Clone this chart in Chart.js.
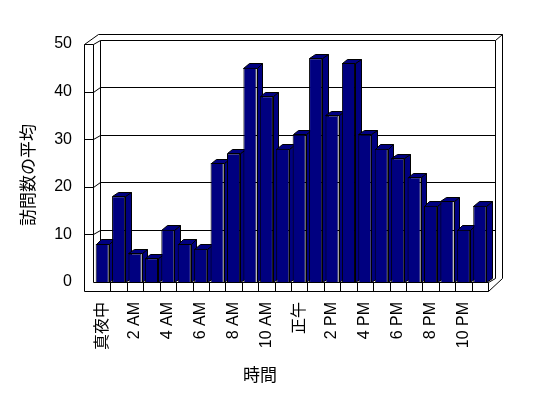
<!DOCTYPE html>
<html>
<head>
<meta charset="utf-8">
<script src="https://cdn.jsdelivr.net/npm/chart.js@4.4.0/dist/chart.umd.min.js"></script>
<style>
body { margin: 0; background: #fff; }
</style>
</head>
<body>
<canvas id="visits" width="548" height="398"></canvas>
<script>
var hourLabels = ['真夜中', '1 AM', '2 AM', '3 AM', '4 AM', '5 AM', '6 AM', '7 AM', '8 AM', '9 AM', '10 AM', '11 AM',
    '正午', '1 PM', '2 PM', '3 PM', '4 PM', '5 PM', '6 PM', '7 PM', '8 PM', '9 PM', '10 PM', '11 PM'];
var avgVisits = [8, 18, 6, 5, 11, 8, 7, 25, 27, 45, 39, 28, 31, 47, 35, 46, 31, 28, 26, 22, 16, 17, 11, 16];
var yTicks = [0, 10, 20, 30, 40, 50];
var xTitle = '時間';
var yTitle = '訪問数の平均';

var latin = "'Liberation Sans', 'Noto Sans CJK JP'";
var kanji = "'Noto Sans CJK JP'";
var navy = '#000080';

function px(v) { return Math.round(v) + 0.5; }

function poly(ctx, pts, close, fill) {
    ctx.beginPath();
    ctx.moveTo(px(pts[0][0]), px(pts[0][1]));
    for (var i = 1; i < pts.length; i++) ctx.lineTo(px(pts[i][0]), px(pts[i][1]));
    if (close) ctx.closePath();
    if (fill) ctx.fill();
    ctx.stroke();
}

// walls, floor and the depth faces of each bar (excel style 3d)
var box3d = {
    id: 'box3d',
    beforeDatasetsDraw: function (chart) {
        var ctx = chart.ctx;
        var ca = chart.chartArea;
        var ys = chart.scales.y, xs = chart.scales.x;
        var L = ca.left, R = ca.right, B = ca.bottom;
        var T = ys.getPixelForValue(yTicks[yTicks.length - 1]);
        var x0 = L - 10, x1 = L - 1;
        var dx = 6.5, dy = -4.5, fh = 9;
        var ox = R + dx + 7, oy = T - 10;

        ctx.save();
        ctx.strokeStyle = '#000';
        ctx.lineWidth = 1;

        // outer frame
        poly(ctx, [[x0, B + fh], [x0, T], [x0 + 14, oy], [ox, oy], [ox, B + dy]]);
        // inner back wall edges
        poly(ctx, [[x1, T], [x1, B]]);
        poly(ctx, [[x1 + dx, T + dy], [x1 + dx, B + dy]]);
        poly(ctx, [[R + dx, T + dy], [R + dx, B + dy]]);
        poly(ctx, [[R + dx, T + dy], [ox, oy]]);

        // gridlines across left wall and back wall
        yTicks.forEach(function (v) {
            if (v === yTicks[0]) return;
            var y = ys.getPixelForValue(v);
            poly(ctx, [[x0, y], [x1, y], [x1 + dx, y + dy], [R + dx, y + dy]]);
        });

        // floor slab
        poly(ctx, [[x1, B], [R, B]]);
        poly(ctx, [[x0, B + fh], [R, B + fh]]);
        poly(ctx, [[R, B], [R, B + fh]]);
        for (var i = 1; i < hourLabels.length; i++) {
            var bx = (xs.getPixelForValue(i - 1) + xs.getPixelForValue(i)) / 2;
            poly(ctx, [[bx, B], [bx, B + fh]]);
        }
        poly(ctx, [[R, B], [R + dx, B + dy]]);
        poly(ctx, [[R, B + fh], [ox, B + dy]]);

        // bar tops and sides
        var bdx = 5.5, bdy = -4.5;
        ctx.fillStyle = navy;
        chart.getDatasetMeta(0).data.forEach(function (bar) {
            var l = bar.x - bar.width / 2, r = bar.x + bar.width / 2;
            var top = bar.y, base = bar.base;
            poly(ctx, [[r, top], [r + bdx, top + bdy], [r + bdx, base + bdy], [r, base]], true, true);
            poly(ctx, [[l, top], [r, top], [r + bdx, top + bdy], [l + bdx, top + bdy]], true, true);
        });
        ctx.restore();
    },
    afterDraw: function (chart) {
        var ctx = chart.ctx;
        ctx.save();
        ctx.fillStyle = '#000';
        ctx.font = '17px ' + kanji;
        ctx.textAlign = 'center';
        ctx.textBaseline = 'middle';
        ctx.fillText(xTitle, 260, 375);
        ctx.translate(28, 175);
        ctx.rotate(-Math.PI / 2);
        ctx.fillText(yTitle, 0, 0);
        ctx.restore();
    }
};

var config = {
    type: 'bar',
    data: {
        labels: hourLabels,
        datasets: [{
            label: yTitle,
            data: avgVisits,
            backgroundColor: navy,
            borderColor: '#000',
            borderWidth: 1,
            barPercentage: 0.8,
            categoryPercentage: 1.0
        }]
    },
    options: {
        responsive: false,
        animation: false,
        devicePixelRatio: 1,
        layout: { padding: { top: 44, right: 60, left: 0, bottom: 0 } },
        plugins: { legend: { display: false }, tooltip: { enabled: false } },
        scales: {
            x: {
                grid: { display: false, drawTicks: false },
                border: { display: false },
                afterFit: function (s) { s.height = 116; },
                ticks: {
                    autoSkip: false,
                    maxRotation: 90,
                    minRotation: 90,
                    padding: 20,
                    color: '#000',
                    font: { family: latin, size: 16 },
                    callback: function (v, i) { return i % 2 === 0 ? hourLabels[i] : ''; }
                }
            },
            y: {
                min: yTicks[0],
                max: yTicks[yTicks.length - 1],
                grid: { display: false, drawTicks: false },
                border: { display: false },
                afterFit: function (s) { s.width = 94; },
                ticks: {
                    stepSize: yTicks[1] - yTicks[0],
                    padding: 22,
                    color: '#000',
                    font: { family: latin, size: 16 }
                }
            }
        }
    },
    plugins: [box3d]
};

var myChart = new Chart(document.getElementById('visits').getContext('2d'), config);
</script>
</body>
</html>
